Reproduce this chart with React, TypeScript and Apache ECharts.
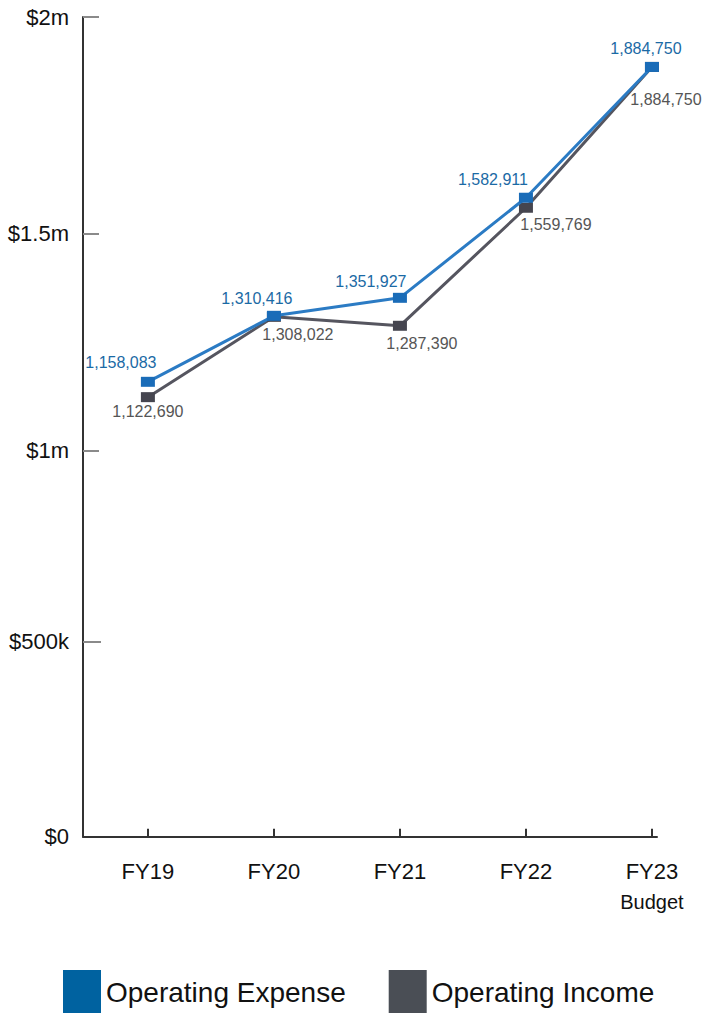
import React, { useEffect, useRef } from "react";
import * as echarts from "echarts";

const categories = ["FY19", "FY20", "FY21", "FY22", "FY23"];
const categorySub = ["", "", "", "", "Budget"];
const expenseValues = [1158083, 1310416, 1351927, 1582911, 1884750];
const incomeValues = [1122690, 1308022, 1287390, 1559769, 1884750];
const yTickValues = [0, 500000, 1000000, 1500000, 2000000];
const yTickLabels = ["$0", "$500k", "$1m", "$1.5m", "$2m"];
const seriesNames = ["Operating Expense", "Operating Income"];

// label offsets (layout, not data)
const expenseLabelOffsets = [[-27, -19], [-17, -17], [-29, -16], [-33, -18], [-6, -18]];
const incomeLabelOffsets = [[0, 14], [24, 18], [22, 18], [30, 17], [14, 33]];

const FONT = "'Liberation Sans', Arial, sans-serif";

export default function App() {
  const ref = useRef<HTMLDivElement>(null);
  useEffect(() => {
    document.body.style.margin = "0";
    const chart = echarts.init(ref.current!, null, { renderer: "svg" });
    const fmt = (v: number) => v.toLocaleString("en-US");
    const labelFor = (v: number) => yTickLabels[yTickValues.indexOf(v)] ?? "";
    const upper = yTickValues.filter((v) => v >= 1000000);
    const lower = yTickValues.filter((v) => v < 1000000);
    const idx = categories.map((_, i) => i);

    chart.setOption({
      animation: false,
      textStyle: { fontFamily: FONT },
      grid: { left: 83, right: 56, top: 17, bottom: 176.3 },
      legend: {
        left: 63,
        top: 970,
        padding: 0,
        itemWidth: 38,
        itemHeight: 44,
        itemGap: 43,
        icon: "rect",
        textStyle: { fontSize: 28, color: "#111", fontFamily: FONT },
        data: [
          { name: seriesNames[0], itemStyle: { color: "#0062a0" } },
          { name: seriesNames[1], itemStyle: { color: "#4a4e55" } },
        ],
      },
      xAxis: {
        type: "value",
        min: -0.515,
        max: 4.04,
        splitLine: { show: false },
        axisLine: { onZero: false, lineStyle: { color: "#333", width: 2 } },
        axisTick: {
          show: true,
          inside: true,
          length: 8,
          customValues: idx,
          lineStyle: { color: "#333", width: 2 },
        },
        axisLabel: {
          customValues: idx,
          margin: 20,
          formatter: (v: number) => {
            const i = Math.round(v);
            return categorySub[i]
              ? `{a|${categories[i]}}\n{b|${categorySub[i]}}`
              : `{a|${categories[i]}}`;
          },
          rich: {
            a: { fontSize: 22, color: "#111", lineHeight: 30, fontFamily: FONT },
            b: { fontSize: 20, color: "#111", lineHeight: 30, fontFamily: FONT },
          },
        },
      },
      yAxis: [
        {
          type: "value",
          position: "left",
          min: 108300,
          max: 2000000,
          splitLine: { show: false },
          axisLine: { show: true, onZero: false, lineStyle: { color: "#333", width: 2 } },
          axisTick: {
            show: true,
            inside: true,
            length: 16,
            customValues: upper,
            lineStyle: { color: "#8a8a8a", width: 2 },
          },
          axisLabel: {
            customValues: upper,
            margin: 14,
            fontSize: 22,
            color: "#111",
            fontFamily: FONT,
            formatter: (v: number) => labelFor(v),
          },
        },
        {
          type: "value",
          position: "left",
          min: 0,
          max: 2101795,
          splitLine: { show: false },
          axisLine: { show: false, onZero: false },
          axisTick: {
            show: true,
            inside: true,
            length: 18,
            customValues: lower.filter((v) => v > 0),
            lineStyle: { color: "#8a8a8a", width: 2 },
          },
          axisLabel: {
            customValues: lower,
            margin: 14,
            fontSize: 22,
            color: "#111",
            fontFamily: FONT,
            formatter: (v: number) => labelFor(v),
          },
        },
      ],
      series: [
        {
          name: seriesNames[1],
          type: "line",
          yAxisIndex: 0,
          symbol: "rect",
          symbolSize: [14, 10],
          lineStyle: { color: "#55555f", width: 3 },
          itemStyle: { color: "#45454f" },
          z: 2,
          label: {
            show: true,
            position: "inside",
            fontSize: 16,
            color: "#555",
            fontFamily: FONT,
            formatter: (p: any) => fmt(p.value[1]),
          },
          data: incomeValues.map((v, i) => ({
            value: [i, v],
            label: { offset: incomeLabelOffsets[i] },
          })),
        },
        {
          name: seriesNames[0],
          type: "line",
          yAxisIndex: 0,
          symbol: "rect",
          symbolSize: [14, 10],
          lineStyle: { color: "#2b7bc4", width: 3 },
          itemStyle: { color: "#1a6cb8" },
          z: 3,
          label: {
            show: true,
            position: "inside",
            fontSize: 16,
            color: "#1b6aa5",
            fontFamily: FONT,
            formatter: (p: any) => fmt(p.value[1]),
          },
          data: expenseValues.map((v, i) => ({
            value: [i, v],
            label: { offset: expenseLabelOffsets[i] },
          })),
        },
      ],
    });
    return () => chart.dispose();
  }, []);
  return <div ref={ref} style={{ width: 713, height: 1013 }} />;
}
